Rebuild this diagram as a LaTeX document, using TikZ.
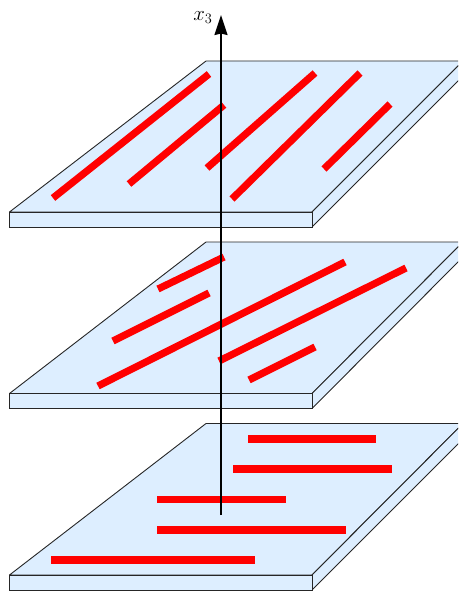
\documentclass[tikz,border=0pt]{standalone}
\usetikzlibrary{arrows.meta}
\definecolor{platefill}{HTML}{DDEEFF}
\begin{document}
\begin{tikzpicture}[
  x=1pt, y=-1pt,
  >={Stealth[length=20pt,width=13pt,inset=1.5pt]},
  plate/.style={draw=black!85, fill=platefill, line width=0.9pt, line join=round},
  platefront/.style={draw=black!85, fill=platefill, line width=1pt},
  fibre/.style={draw=red, line width=7.2pt},
  axis/.style={draw=black, line width=2pt}
]
\path[use as bounding box, clip] (0,0) rectangle (458,594);

\path[plate] (9.5,212) -- (206,61) -- (463,61) -- (312,212) -- cycle;
\path[plate] (312,212) -- (463,61) -- (463,76) -- (312,227) -- cycle;
\path[platefront] (9.5,212) rectangle (312,227);
\draw[fibre] (53,198) -- (209,74);
\draw[fibre] (129,184) -- (224,105);
\draw[fibre] (207,168) -- (315,73);
\draw[fibre] (232,199) -- (360,73);
\draw[fibre] (324,169) -- (390,104);

\path[plate] (9.5,393.5) -- (206,242) -- (463,242) -- (312,393.5) -- cycle;
\path[plate] (312,393.5) -- (463,242) -- (463,257) -- (312,408.5) -- cycle;
\path[platefront] (9.5,393.5) rectangle (312,408.5);
\draw[fibre] (158,289) -- (224,257);
\draw[fibre] (113,341) -- (209,293);
\draw[fibre] (98,386) -- (345,262);
\draw[fibre] (219,361) -- (406,268);
\draw[fibre] (249,380) -- (315,347);

\path[plate] (9.5,575) -- (206,423.5) -- (463,423.5) -- (312,575) -- cycle;
\path[plate] (312,575) -- (463,423.5) -- (463,439) -- (312,590) -- cycle;
\path[platefront] (9.5,575) rectangle (312,590);
\draw[fibre] (248,439) -- (376,439);
\draw[fibre] (233,469) -- (391.5,469);
\draw[fibre] (157,499.5) -- (285.5,499.5);
\draw[fibre] (157,530) -- (346,530);
\draw[fibre] (51,560) -- (255,560);

\coordinate (foot) at (221,515);
\coordinate (head) at (221,15);
\draw[axis, ->] (foot) -- (head);
\node[inner sep=0pt, font=\fontsize{21}{21}\selectfont] (xlabel) at (203,17.5) {$x_3$};
\end{tikzpicture}
\end{document}
